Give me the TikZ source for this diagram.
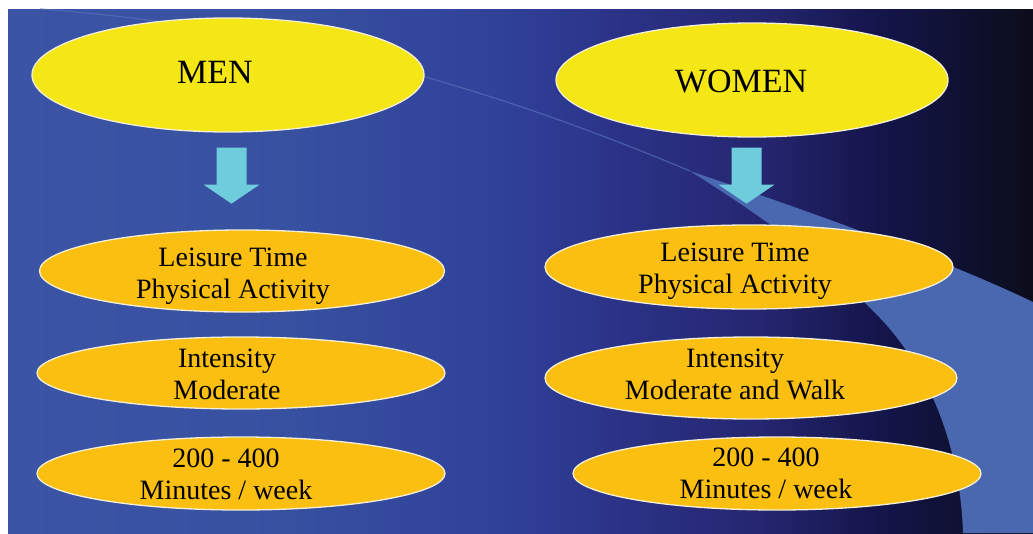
\documentclass[tikz,border=0pt]{standalone}
\usepackage{fontspec}
\setmainfont{Liberation Serif}
\usetikzlibrary{shapes.geometric,calc}
\definecolor{bgA}{HTML}{3B54A5}
\definecolor{bgB}{HTML}{3750A0}
\definecolor{bgC}{HTML}{30419A}
\definecolor{bgD}{HTML}{2B3286}
\definecolor{bgE}{HTML}{252670}
\definecolor{bgF}{HTML}{14154A}
\definecolor{bgG}{HTML}{0B0D1B}
\definecolor{titleyellow}{HTML}{F5E616}
\definecolor{boxorange}{HTML}{FBBF12}
\definecolor{edgecream}{HTML}{F3EFD6}
\definecolor{arrowcyan}{HTML}{6ECCDC}
\definecolor{bandblue}{HTML}{4A68B0}
\definecolor{streakblue}{HTML}{5670BA}
\pgfdeclarehorizontalshading{bgshade}{100bp}{color(0bp)=(bgA); color(25bp)=(bgA); color(39bp)=(bgB); color(49bp)=(bgC); color(55bp)=(bgD); color(61.7bp)=(bgE); color(67.5bp)=(bgF); color(75bp)=(bgG); color(100bp)=(bgG)}
\newcommand\blockarrowdown[1]{%
  \fill[arrowcyan] (#1) ++(-15,0) -- ++(30,0) -- ++(0,37) -- ++(13,0) -- ++(-28,19) -- ++(-28,-19) -- ++(13,0) -- cycle;}
\tikzset{
  ybox/.style={ellipse, fill=titleyellow, draw=edgecream, line width=1.3pt, inner sep=0pt, minimum width=392pt, minimum height=114pt},
  obox/.style={ellipse, fill=boxorange, draw=edgecream, line width=1.3pt, inner sep=0pt},
  txt/.style={align=center, font=\fontsize{28}{32}\selectfont, inner sep=0pt, text=black},
  ttl/.style={font=\fontsize{34}{40}\selectfont, inner sep=0pt, text=black}
}
\begin{document}
\begin{tikzpicture}[x=1pt,y=-1pt]
\useasboundingbox (0,0) rectangle (1033,533);
\fill[white] (0,0) rectangle (1033,533);
\shade[shading=bgshade] (8,9) rectangle (1033,533);
% light band
\fill[bandblue] (690,171) .. controls (820,215) and (950,262) .. (1033,302)
  -- (1033,533) -- (963,533)
  .. controls (960,440) and (925,360) .. (870,308)
  .. controls (830,265) and (760,215) .. (690,171) -- cycle;
\draw[streakblue, line width=1.2pt, opacity=0.7] (40,9) .. controls (250,25) and (450,70) .. (690,171);
% titles
\node[ybox] (men) at (228,75) {};
\node[ttl] (menT) at (215,72) {MEN};
\node[ybox] (women) at (752,80) {};
\node[ttl] (womenT) at (741,81) {WOMEN};
% left column
\node[obox, minimum width=405pt, minimum height=82pt] (l1) at (242,271) {};
\node[txt] (l1t) at (233,276.5) {Leisure Time\\Physical Activity};
\node[obox, minimum width=408pt, minimum height=72pt] (l2) at (241,373) {};
\node[txt] (l2t) at (227,374) {Intensity\\Moderate};
\node[obox, minimum width=408pt, minimum height=73pt] (l3) at (241,473.5) {};
\node[txt] (l3t) at (226,474.5) {200 - 400\\Minutes / week};
% right column
\node[obox, minimum width=408pt, minimum height=84pt] (r1) at (749,267) {};
\node[txt] (r1t) at (735,271.5) {Leisure Time\\Physical Activity};
\node[obox, minimum width=412pt, minimum height=82pt] (r2) at (751,378) {};
\node[txt] (r2t) at (735,374) {Intensity\\Moderate and Walk};
\node[obox, minimum width=408pt, minimum height=73pt] (r3) at (777,473.5) {};
\node[txt] (r3t) at (766,473.5) {200 - 400\\Minutes / week};
% arrows
\coordinate (ma) at ($(men.south)+(3.5,15)$);
\coordinate (wa) at ($(women.south)+(-5.5,10)$);
\blockarrowdown{ma}
\blockarrowdown{wa}
\end{tikzpicture}
\end{document}
